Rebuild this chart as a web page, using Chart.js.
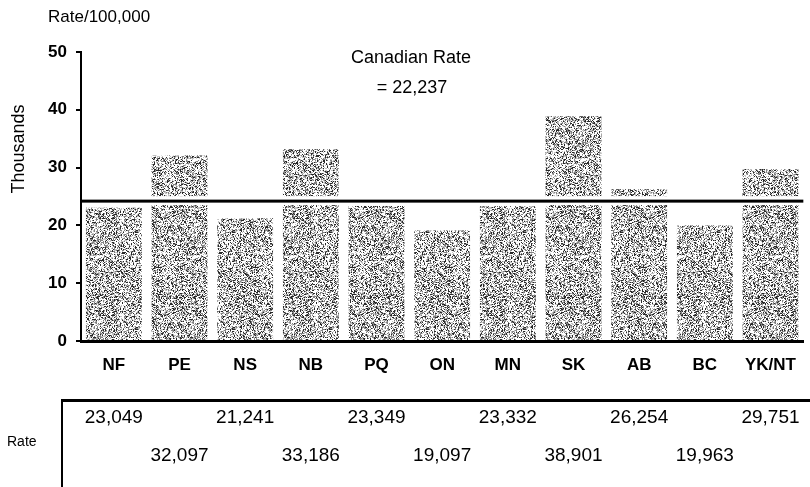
<!DOCTYPE html>
<html>
<head>
<meta charset="utf-8">
<script src="https://cdn.jsdelivr.net/npm/chart.js@4.4.1/dist/chart.umd.min.js"></script>
<style>
  html, body { margin: 0; padding: 0; background: #fff; }
  #wrap { width: 810px; height: 487px; position: relative; }
</style>
</head>
<body>
<div id="wrap"><canvas id="chart"></canvas></div>
<script>
const provinces = ["NF", "PE", "NS", "NB", "PQ", "ON", "MN", "SK", "AB", "BC", "YK/NT"];
const rates = [23049, 32097, 21241, 33186, 23349, 19097, 23332, 38901, 26254, 19963, 29751];
const canadianRate = 22237;
const refLineLevel = 24.2; // where the line sits in the picture (thousands)
const yTicks = [0, 10, 20, 30, 40, 50];

const FONT = "'Liberation Sans', Arial, sans-serif";

// stippled grey fill, like the scanned bars
function makeStipple() {
  const n = 97;
  const c = document.createElement("canvas");
  c.width = n; c.height = n;
  const g = c.getContext("2d");
  const img = g.createImageData(n, n);
  for (let y = 0; y < n; y++) {
    for (let x = 0; x < n; x++) {
      const h = Math.abs(Math.sin(x * 12.9898 + y * 78.233) * 43758.5453) % 1;
      let v = 255;
      if (h < 0.17) v = 40;
      else if (h < 0.38) v = 130;
      else if (h < 0.55) v = 195;
      const i = (y * n + x) * 4;
      img.data[i] = img.data[i + 1] = img.data[i + 2] = v;
      img.data[i + 3] = 255;
    }
  }
  g.putImageData(img, 0, 0);
  return g.createPattern(c, "repeat");
}

const overlay = {
  id: "overlay",
  afterDatasetsDraw(chart) {
    const { ctx, chartArea, scales } = chart;
    const y = scales.y.getPixelForValue(refLineLevel);
    ctx.save();
    // white gap around the reference line, then the line
    ctx.fillStyle = "#fff";
    ctx.fillRect(chartArea.left + 2, y - 5, chartArea.right - chartArea.left, 9);
    ctx.fillStyle = "#000";
    ctx.fillRect(chartArea.left, y - 1.5, chartArea.right - chartArea.left, 3);

    ctx.textBaseline = "middle";
    ctx.textAlign = "center";
    ctx.font = "18px " + FONT;
    ctx.fillText("Canadian Rate", 411, 58);
    ctx.fillText("= " + canadianRate.toLocaleString("en-US"), 412, 88);

    ctx.textAlign = "left";
    ctx.font = "17px " + FONT;
    ctx.fillText("Rate/100,000", 48, 17);

    ctx.save();
    ctx.translate(19, 149);
    ctx.rotate(-Math.PI / 2);
    ctx.textAlign = "center";
    ctx.font = "18px " + FONT;
    ctx.fillText("Thousands", 0, 0);
    ctx.restore();

    // data table below the axis
    ctx.fillRect(62, 399, 810 - 62, 3);
    ctx.fillRect(61, 399, 2, 88);
    ctx.font = "14px " + FONT;
    ctx.textAlign = "left";
    ctx.fillText("Rate", 7, 442);
    ctx.font = "19px " + FONT;
    ctx.textAlign = "center";
    rates.forEach((r, i) => {
      const x = scales.x.getPixelForValue(i);
      const ty = i % 2 === 0 ? 418 : 456;
      ctx.fillText(r.toLocaleString("en-US"), Math.min(x, 775), ty);
    });
    ctx.restore();
  }
};

const ctx = document.getElementById("chart").getContext("2d");
const stipple = makeStipple();

new Chart(ctx, {
  type: "bar",
  data: {
    labels: provinces,
    datasets: [{
      data: rates.map(r => r / 1000),
      backgroundColor: stipple,
      borderWidth: 0,
      categoryPercentage: 1,
      barPercentage: 0.85
    }]
  },
  options: {
    responsive: true,
    maintainAspectRatio: false,
    animation: false,
    layout: { padding: { top: 52, right: 0, left: 0, bottom: 0 } },
    plugins: {
      legend: { display: false },
      tooltip: { enabled: false }
    },
    scales: {
      x: {
        afterFit(axis) { axis.height = 146; },
        grid: { display: false, drawTicks: false },
        border: { display: true, color: "#000", width: 3 },
        ticks: {
          color: "#000",
          padding: 14,
          maxRotation: 0,
          font: { family: FONT, size: 17, weight: "bold" }
        }
      },
      y: {
        min: 0,
        max: 50,
        afterFit(axis) { axis.width = 81; },
        afterBuildTicks(axis) { axis.ticks = yTicks.map(v => ({ value: v })); },
        grid: { drawOnChartArea: false, drawTicks: true, tickLength: 5, color: "#000", lineWidth: 2 },
        border: { display: true, color: "#000", width: 2 },
        ticks: {
          color: "#000",
          padding: 9,
          font: { family: FONT, size: 17, weight: "bold" }
        }
      }
    }
  },
  plugins: [overlay]
});
</script>
</body>
</html>
